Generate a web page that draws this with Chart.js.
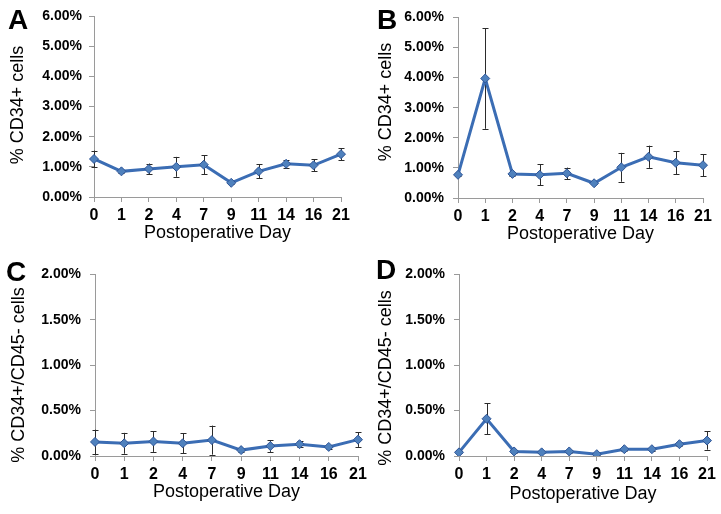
<!DOCTYPE html>
<html>
<head>
<meta charset="utf-8">
<script src="https://cdn.jsdelivr.net/npm/chart.js@4"></script>
<style>
  body { margin: 0; background: #fff; }
  #wrap { position: relative; width: 721px; height: 514px; overflow: hidden; font-family: "Liberation Sans", Arial, sans-serif; }
  canvas { position: absolute; }
  .letter { position: absolute; font-size: 28px; font-weight: bold; line-height: 28px; color: #000; }
  .ytitle { position: absolute; font-size: 18px; white-space: nowrap; color: #000; transform: translate(-50%, -50%) rotate(-90deg); }
</style>
</head>
<body>
<div id="wrap">
  <canvas id="chartA" width="360" height="257" style="left:0;top:0"></canvas>
  <canvas id="chartB" width="361" height="257" style="left:360px;top:0"></canvas>
  <canvas id="chartC" width="375" height="257" style="left:0;top:257px"></canvas>
  <canvas id="chartD" width="361" height="257" style="left:360px;top:257px"></canvas>
  <div class="letter" style="left:8px;top:6px">A</div>
  <div class="letter" style="left:377px;top:6px">B</div>
  <div class="letter" style="left:6px;top:258px">C</div>
  <div class="letter" style="left:376px;top:256px">D</div>
  <div class="ytitle" style="left:17px;top:105px">% CD34+ cells</div>
  <div class="ytitle" style="left:385px;top:102px">% CD34+ cells</div>
  <div class="ytitle" style="left:18px;top:375px">% CD34+/CD45- cells</div>
  <div class="ytitle" style="left:385px;top:378px">% CD34+/CD45- cells</div>
</div>
<script>
// postoperative days (categories)
const days = ["0", "1", "2", "4", "7", "9", "11", "14", "16", "21"];

// % CD34+ cells, mean and error (percent)
const cd34A = [1.26, 0.85, 0.93, 1.00, 1.07, 0.47, 0.85, 1.10, 1.05, 1.42];
const cd34AErr = [0.28, 0.05, 0.18, 0.33, 0.31, 0.05, 0.23, 0.13, 0.20, 0.20];
const cd34B = [0.77, 3.97, 0.80, 0.77, 0.82, 0.49, 1.02, 1.37, 1.17, 1.09];
const cd34BErr = [0.04, 1.67, 0.07, 0.35, 0.19, 0.04, 0.48, 0.37, 0.38, 0.36];

// % CD34+/CD45- cells
const cd45C = [0.155, 0.14, 0.16, 0.14, 0.175, 0.065, 0.11, 0.13, 0.10, 0.18];
const cd45CErr = [0.135, 0.115, 0.115, 0.11, 0.16, 0.025, 0.065, 0.03, 0.02, 0.08];
const cd45D = [0.04, 0.41, 0.05, 0.04, 0.05, 0.02, 0.075, 0.075, 0.13, 0.17];
const cd45DErr = [0.01, 0.17, 0.015, 0.01, 0.015, 0.01, 0.015, 0.015, 0.02, 0.10];

const FONT = "'Liberation Sans', Arial, sans-serif";

// draws vertical error bars with caps, under the markers
const errorBars = {
    id: "errorBars",
    beforeDatasetsDraw(chart) {
        const ds = chart.data.datasets[0];
        const meta = chart.getDatasetMeta(0);
        const y = chart.scales.y;
        const ctx = chart.ctx;
        ctx.save();
        ctx.strokeStyle = "#2b2b2b";
        ctx.lineWidth = 1;
        meta.data.forEach(function (pt, i) {
            const v = ds.data[i], e = ds.errors[i];
            const top = y.getPixelForValue(v + e);
            const bot = y.getPixelForValue(Math.max(v - e, 0));
            const x = Math.round(pt.x) + 0.5;
            ctx.beginPath();
            ctx.moveTo(x, top); ctx.lineTo(x, bot);
            ctx.moveTo(x - 3, Math.round(top) + 0.5); ctx.lineTo(x + 3, Math.round(top) + 0.5);
            ctx.moveTo(x - 3, Math.round(bot) + 0.5); ctx.lineTo(x + 3, Math.round(bot) + 0.5);
            ctx.stroke();
        });
        ctx.restore();
    }
};

function makeChart(id, values, errors, yMax, yStep, box) {
    return new Chart(document.getElementById(id), {
        type: "line",
        data: {
            labels: days,
            datasets: [{
                data: values,
                errors: errors,
                borderColor: "#3b6db4",
                borderWidth: 3,
                pointStyle: "rectRot",
                pointRadius: 4.5,
                pointBackgroundColor: "#4f81bd",
                pointBorderColor: "#2f5597",
                pointBorderWidth: 1,
                tension: 0
            }]
        },
        options: {
            responsive: false,
            animation: false,
            devicePixelRatio: 1,
            layout: { padding: { left: 0, right: box.right, top: box.top, bottom: 0 } },
            plugins: { legend: { display: false }, tooltip: { enabled: false } },
            scales: {
                x: {
                    offset: false,
                    afterFit: function (s) { s.height = box.xh; },
                    grid: { drawOnChartArea: false, drawTicks: true, tickLength: 5, color: "#9a9a9a" },
                    border: { color: "#9a9a9a", width: 1 },
                    ticks: { color: "#000", padding: 4, maxRotation: 0, autoSkip: false,
                             font: { family: FONT, size: 16, weight: "bold" } },
                    title: { display: true, text: "Postoperative Day", color: "#000",
                             padding: { top: 0, bottom: box.tpad },
                             font: { family: FONT, size: 18 } }
                },
                y: {
                    min: 0,
                    max: yMax,
                    afterFit: function (s) { s.width = box.yw; },
                    grid: { drawOnChartArea: false, drawTicks: true, tickLength: 5, color: "#9a9a9a" },
                    border: { color: "#9a9a9a", width: 1 },
                    ticks: { stepSize: yStep, color: "#000", padding: box.lpad,
                             font: { family: FONT, size: 14, weight: "bold" },
                             callback: function (v) { return v.toFixed(2) + "%"; } }
                }
            }
        },
        plugins: [errorBars]
    });
}

makeChart("chartA", cd34A, cd34AErr, 6, 1, { right: 19, top: 16, xh: 60, yw: 94, tpad: 13, lpad: 7 });
makeChart("chartB", cd34B, cd34BErr, 6, 1, { right: 18, top: 16, xh: 59, yw: 98, tpad: 12, lpad: 9 });
makeChart("chartC", cd45C, cd45CErr, 2, 0.5, { right: 17, top: 17, xh: 58, yw: 95, tpad: 11, lpad: 9 });
makeChart("chartD", cd45D, cd45DErr, 2, 0.5, { right: 14, top: 15, xh: 58, yw: 99, tpad: 9, lpad: 9 });
</script>
</body>
</html>
